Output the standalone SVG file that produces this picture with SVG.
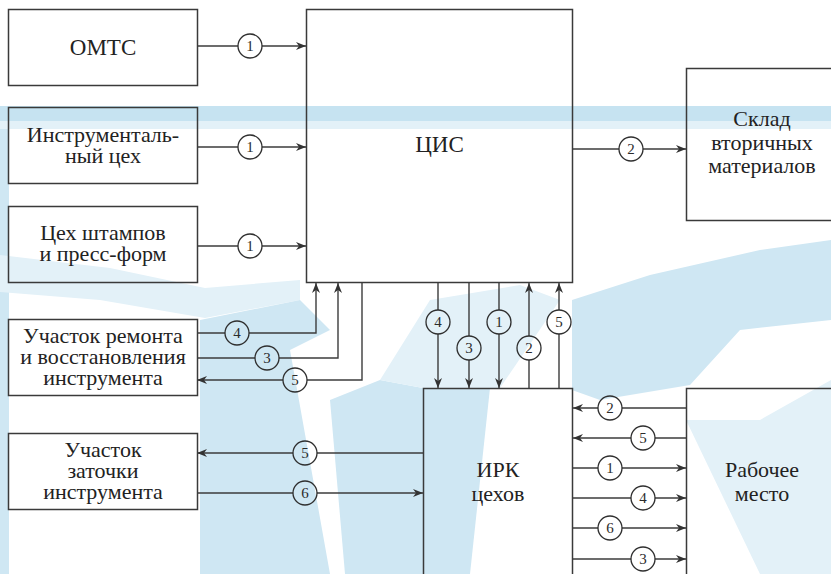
<svg xmlns="http://www.w3.org/2000/svg" width="831" height="574" viewBox="0 0 831 574">
<style>
.box{fill:none;stroke:#3a3a3a;stroke-width:1.5}
.lbl{font-family:'Liberation Serif','Times New Roman',serif;font-size:22px;fill:#222;text-anchor:middle}
.big{font-size:23px}
.num{font-family:'Liberation Serif','Times New Roman',serif;font-size:15px;fill:#2b2b2b;text-anchor:middle}
.cn{fill:none;stroke:#3c3c3c;stroke-width:1.4}
.ar{marker-end:url(#ah)}
.ci{fill:none;stroke:#2f2f2f;stroke-width:1.3}
.wm{fill:#cfe7f3}
.wm2{fill:#e3f1f8}
</style>
<defs>
<marker id="ah" markerUnits="userSpaceOnUse" markerWidth="11" markerHeight="8" refX="10" refY="4" orient="auto">
<path d="M0,0 L10,4 L0,8 L3,4 Z" fill="#333"/>
</marker>
</defs>
<rect width="831" height="574" fill="#ffffff"/>
<g id="watermark">
<rect x="0" y="121" width="831" height="8" class="wm2"/>
<rect x="0" y="106" width="831" height="15" fill="#c6e3f1"/>
<rect x="0" y="129" width="9" height="445" class="wm"/>
<polygon class="wm2" points="0,255 110,268 205,288 300,280 300,300 205,318 100,300 0,292"/>
<polygon class="wm" points="200,320 300,300 330,330 290,350 330,574 200,574"/>
<polygon class="wm" points="330,400 380,380 423,388 423,574 345,574"/>
<polygon class="wm" points="423,388 490,388 470,574 423,574"/>
<polygon class="wm2" points="380,380 430,300 520,285 560,300 500,388 423,388"/>
<polygon class="wm" points="572,300 650,275 760,250 831,240 831,320 740,330 690,385 600,400 572,390"/>
<polygon class="wm2" points="686,420 760,420 831,380 831,574 760,574"/>
</g>
<g id="connectors">
<path class="cn ar" d="M197,46 H238 M262,46 H306"/>
<path class="cn ar" d="M197,147 H238 M262,147 H306"/>
<path class="cn ar" d="M197,246 H238 M262,246 H306"/>
<path class="cn ar" d="M572,149 H619 M643,149 H686"/>
<path class="cn ar" d="M197,333 H225 M249,333 H316 V283"/>
<path class="cn ar" d="M197,358 H255 M279,358 H338 V283"/>
<path class="cn ar" d="M362,283 V380 H307 M283,380 H197"/>
<path class="cn ar" d="M438,283 V310 M438,334 V388"/>
<path class="cn ar" d="M469,283 V336 M469,360 V388"/>
<path class="cn ar" d="M499,283 V310 M499,334 V388"/>
<path class="cn ar" d="M529,388 V360 M529,336 V283"/>
<path class="cn ar" d="M559,388 V334 M559,310 V283"/>
<path class="cn ar" d="M423,453 H317 M293,453 H197"/>
<path class="cn ar" d="M197,493 H293 M317,493 H423"/>
<path class="cn ar" d="M686,408 H622 M598,408 H573"/>
<path class="cn ar" d="M686,438 H655 M631,438 H573"/>
<path class="cn ar" d="M573,468 H598 M622,468 H686"/>
<path class="cn ar" d="M573,498 H631 M655,498 H686"/>
<path class="cn ar" d="M573,528 H598 M622,528 H686"/>
<path class="cn ar" d="M573,559 H631 M655,559 H686"/>
<circle class="ci" cx="250" cy="46" r="12"/><text class="num" x="250" y="51">1</text>
<circle class="ci" cx="250" cy="147" r="12"/><text class="num" x="250" y="152">1</text>
<circle class="ci" cx="250" cy="246" r="12"/><text class="num" x="250" y="251">1</text>
<circle class="ci" cx="631" cy="149" r="12"/><text class="num" x="631" y="154">2</text>
<circle class="ci" cx="237" cy="333" r="12"/><text class="num" x="237" y="338">4</text>
<circle class="ci" cx="267" cy="358" r="12"/><text class="num" x="267" y="363">3</text>
<circle class="ci" cx="295" cy="380" r="12"/><text class="num" x="295" y="385">5</text>
<circle class="ci" cx="438" cy="322" r="12"/><text class="num" x="438" y="327">4</text>
<circle class="ci" cx="469" cy="348" r="12"/><text class="num" x="469" y="353">3</text>
<circle class="ci" cx="499" cy="322" r="12"/><text class="num" x="499" y="327">1</text>
<circle class="ci" cx="529" cy="348" r="12"/><text class="num" x="529" y="353">2</text>
<circle class="ci" cx="559" cy="322" r="12"/><text class="num" x="559" y="327">5</text>
<circle class="ci" cx="305" cy="453" r="12"/><text class="num" x="305" y="458">5</text>
<circle class="ci" cx="305" cy="493" r="12"/><text class="num" x="305" y="498">6</text>
<circle class="ci" cx="610" cy="408" r="12"/><text class="num" x="610" y="413">2</text>
<circle class="ci" cx="643" cy="438" r="12"/><text class="num" x="643" y="443">5</text>
<circle class="ci" cx="610" cy="468" r="12"/><text class="num" x="610" y="473">1</text>
<circle class="ci" cx="643" cy="498" r="12"/><text class="num" x="643" y="503">4</text>
<circle class="ci" cx="610" cy="528" r="12"/><text class="num" x="610" y="533">6</text>
<circle class="ci" cx="643" cy="559" r="12"/><text class="num" x="643" y="564">3</text>
</g>
<g id="omts">
<rect class="box" x="8.5" y="9.5" width="189" height="76"/>
<text class="lbl big" x="103" y="55">ОМТС</text>
</g>
<g id="instr">
<rect class="box" x="8.5" y="107.5" width="189" height="76"/>
<text class="lbl" x="103" y="142">Инструменталь-</text>
<text class="lbl" x="103" y="163">ный цех</text>
</g>
<g id="shtamp">
<rect class="box" x="8.5" y="206.5" width="189" height="76"/>
<text class="lbl" x="103" y="240">Цех штампов</text>
<text class="lbl" x="103" y="261">и пресс-форм</text>
</g>
<g id="remont">
<rect class="box" x="8.5" y="319.5" width="189" height="76"/>
<text class="lbl" x="103" y="343">Участок ремонта</text>
<text class="lbl" x="103" y="364">и восстановления</text>
<text class="lbl" x="103" y="385">инструмента</text>
</g>
<g id="zatochka">
<rect class="box" x="8.5" y="433.5" width="189" height="76"/>
<text class="lbl" x="103" y="457">Участок</text>
<text class="lbl" x="103" y="478">заточки</text>
<text class="lbl" x="103" y="499">инструмента</text>
</g>
<g id="cis">
<rect class="box" x="306.5" y="9.5" width="266" height="273"/>
<text class="lbl big" x="439.5" y="152">ЦИС</text>
</g>
<g id="sklad">
<rect class="box" x="686.5" y="68.5" width="160" height="152"/>
<text class="lbl" x="762" y="126">Склад</text>
<text class="lbl" x="762" y="149.5">вторичных</text>
<text class="lbl" x="762" y="173">материалов</text>
</g>
<g id="irk">
<rect class="box" x="423.5" y="388.5" width="149" height="200"/>
<text class="lbl" x="498" y="477">ИРК</text>
<text class="lbl" x="498" y="501">цехов</text>
</g>
<g id="rabochee">
<rect class="box" x="686.5" y="388.5" width="160" height="200"/>
<text class="lbl" x="762" y="477">Рабочее</text>
<text class="lbl" x="762" y="501">место</text>
</g>
</svg>
